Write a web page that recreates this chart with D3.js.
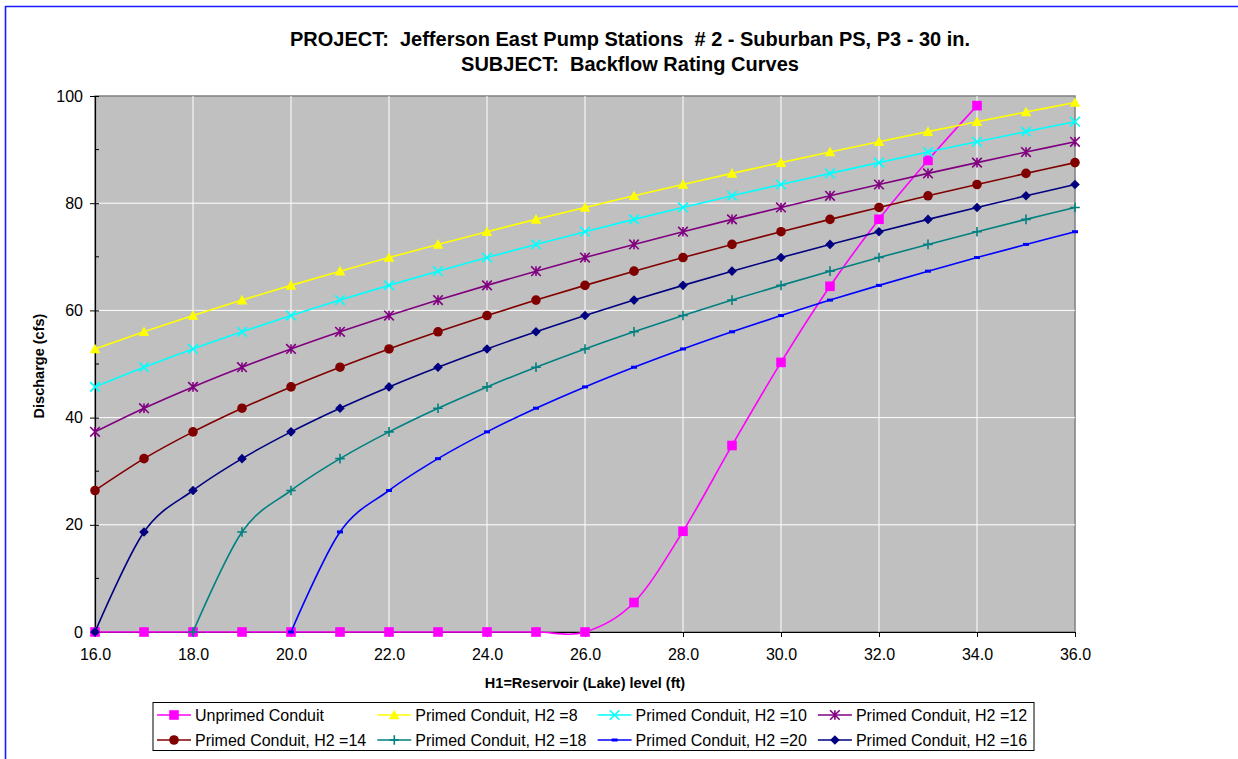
<!DOCTYPE html>
<html><head><meta charset="utf-8">
<script src="https://cdn.jsdelivr.net/npm/d3@7"></script>
<style>
body{margin:0;background:#fff;}
svg text{font-family:Arial,"Liberation Sans",sans-serif;white-space:pre;}
</style></head>
<body><svg id="c" width="1238" height="759"></svg>
<script>
const xLevels = [16,17,18,19,20,21,22,23,24,25,26,27,28,29,30,31,32,33,34,35,36];
const xTicks = [16,18,20,22,24,26,28,30,32,34,36];
const yTicks = [0,20,40,60,80,100];
const yMinorTicks = [10,30,50,70,90];

const unprimed = [0,0,0,0,0,0,0,0,0,0,0,5.5,18.8,34.8,50.3,64.5,77.0,88.0,98.2];
const h2_8  = [52.81,56.01,59.04,61.92,64.67,67.32,69.86,72.31,74.68,76.98,79.21,81.38,83.49,85.56,87.57,89.54,91.46,93.35,95.20,97.01,98.79];
const h2_10 = [45.73,49.40,52.81,56.01,59.04,61.92,64.67,67.32,69.86,72.31,74.68,76.98,79.21,81.38,83.49,85.56,87.57,89.54,91.46,93.35,95.20];
const h2_12 = [37.34,41.75,45.73,49.40,52.81,56.01,59.04,61.92,64.67,67.32,69.86,72.31,74.68,76.98,79.21,81.38,83.49,85.56,87.57,89.54,91.46];
const h2_14 = [26.40,32.34,37.34,41.75,45.73,49.40,52.81,56.01,59.04,61.92,64.67,67.32,69.86,72.31,74.68,76.98,79.21,81.38,83.49,85.56,87.57];
const h2_18 = [null,null,0,18.67,26.40,32.34,37.34,41.75,45.73,49.40,52.81,56.01,59.04,61.92,64.67,67.32,69.86,72.31,74.68,76.98,79.21];
const h2_20 = [null,null,null,null,0,18.67,26.40,32.34,37.34,41.75,45.73,49.40,52.81,56.01,59.04,61.92,64.67,67.32,69.86,72.31,74.68];
const h2_16 = [0,18.67,26.40,32.34,37.34,41.75,45.73,49.40,52.81,56.01,59.04,61.92,64.67,67.32,69.86,72.31,74.68,76.98,79.21,81.38,83.49];

const seriesNames = ["Unprimed Conduit","Primed Conduit, H2 =8","Primed Conduit, H2 =10","Primed Conduit, H2 =12",
  "Primed Conduit, H2 =14","Primed Conduit, H2 =18","Primed Conduit, H2 =20","Primed Conduit, H2 =16"];
const seriesData = [unprimed,h2_8,h2_10,h2_12,h2_14,h2_18,h2_20,h2_16];
const seriesColors = ["#FF00FF","#FFFF00","#00FFFF","#800080","#800000","#008080","#0000FF","#000080"];
const seriesMarkers = ["square","triangle","x","star","circle","plus","dash","diamond"];

const svg = d3.select("#c");
const L=95, R=1075, T=96, B=632;
const x = d3.scaleLinear().domain([16,36]).range([L,R]);
const y = d3.scaleLinear().domain([0,100]).range([B,T]);

// outer blue frame
svg.append("line").attr("x1",5.5).attr("x2",5.5).attr("y1",6).attr("y2",759).attr("stroke","#1a1aff").attr("stroke-width",1.6);
svg.append("line").attr("x1",5).attr("x2",1238).attr("y1",6.5).attr("y2",6.5).attr("stroke","#1a1aff").attr("stroke-width",1.6);

// plot area
svg.append("rect").attr("x",L).attr("y",T).attr("width",R-L).attr("height",B-T).attr("fill","#C0C0C0").attr("stroke","#808080").attr("stroke-width",1.5);

// gridlines
svg.append("g").selectAll("line").data(yTicks.filter(d=>d>0&&d<100)).join("line")
  .attr("x1",L).attr("x2",R).attr("y1",d=>y(d)).attr("y2",d=>y(d)).attr("stroke","#fff").attr("stroke-width",1);
svg.append("g").selectAll("line").data(xTicks.filter(d=>d>16&&d<36)).join("line")
  .attr("y1",T).attr("y2",B).attr("x1",d=>x(d)).attr("x2",d=>x(d)).attr("stroke","#fff").attr("stroke-width",1);

// axes
const yAxis = d3.axisLeft(y).tickValues(yTicks).tickFormat(d3.format("d")).tickSizeInner(5).tickSizeOuter(0);
const gy = svg.append("g").attr("transform",`translate(${L},0)`).call(yAxis);
gy.select(".domain").attr("stroke","#000").attr("stroke-width",1.2);
gy.selectAll(".tick line").attr("x2",-5).attr("x1",4).attr("stroke","#000");
gy.selectAll(".tick text").attr("x",-12).attr("font-size",16).attr("font-family","Arial, 'Liberation Sans'").attr("fill","#000");
svg.append("g").selectAll("line").data(yMinorTicks).join("line")
  .attr("x1",L).attr("x2",L+4).attr("y1",d=>y(d)).attr("y2",d=>y(d)).attr("stroke","#000");

const xAxis = d3.axisBottom(x).tickValues(xTicks).tickFormat(d3.format(".1f")).tickSizeInner(5).tickSizeOuter(0);
const gx = svg.append("g").attr("transform",`translate(0,${B})`).call(xAxis);
gx.select(".domain").attr("stroke","#000").attr("stroke-width",1.2);
gx.selectAll(".tick line").attr("stroke","#000");
gx.selectAll(".tick text").attr("y",17).attr("font-size",16).attr("font-family","Arial, 'Liberation Sans'").attr("fill","#000");

// titles
svg.append("text").attr("x",630).attr("y",46).attr("text-anchor","middle").attr("font-size",20).attr("font-weight","bold")
  .text("PROJECT:  Jefferson East Pump Stations  # 2 - Suburban PS, P3 - 30 in.");
svg.append("text").attr("x",630).attr("y",71).attr("text-anchor","middle").attr("font-size",20).attr("font-weight","bold")
  .text("SUBJECT:  Backflow Rating Curves");
svg.append("text").attr("x",585).attr("y",688).attr("text-anchor","middle").attr("font-size",14.5).attr("font-weight","bold")
  .text("H1=Reservoir (Lake) level (ft)");
svg.append("text").attr("transform","translate(44,366) rotate(-90)").attr("text-anchor","middle").attr("font-size",14.5).attr("font-weight","bold")
  .text("Discharge (cfs)");

// marker drawer
function drawMarker(g, type, color, cx, cy){
  const s = 4.8;
  if(type==="square") g.append("rect").attr("x",cx-s).attr("y",cy-s).attr("width",2*s).attr("height",2*s).attr("fill",color);
  else if(type==="triangle") g.append("path").attr("d",`M${cx},${cy-s-0.5}L${cx+s+0.5},${cy+s-0.5}L${cx-s-0.5},${cy+s-0.5}Z`).attr("fill",color);
  else if(type==="x") g.append("path").attr("d",`M${cx-s},${cy-s}L${cx+s},${cy+s}M${cx-s},${cy+s}L${cx+s},${cy-s}`).attr("stroke",color).attr("stroke-width",1.6);
  else if(type==="star") g.append("path").attr("d",`M${cx-s},${cy-s}L${cx+s},${cy+s}M${cx-s},${cy+s}L${cx+s},${cy-s}M${cx},${cy-s}L${cx},${cy+s}`).attr("stroke",color).attr("stroke-width",1.6);
  else if(type==="circle") g.append("circle").attr("cx",cx).attr("cy",cy).attr("r",s).attr("fill",color);
  else if(type==="plus") g.append("path").attr("d",`M${cx-s},${cy}L${cx+s},${cy}M${cx},${cy-s}L${cx},${cy+s}`).attr("stroke",color).attr("stroke-width",1.6);
  else if(type==="dash") g.append("rect").attr("x",cx-3).attr("y",cy-1.5).attr("width",6).attr("height",3).attr("fill",color);
  else if(type==="diamond") g.append("path").attr("d",`M${cx},${cy-s}L${cx+s},${cy}L${cx},${cy+s}L${cx-s},${cy}Z`).attr("fill",color);
}

const line = d3.line().defined(d=>d[1]!=null).x(d=>x(d[0])).y(d=>y(d[1])).curve(d3.curveCardinal.tension(0));
const plot = svg.append("g");
seriesData.forEach((vals,i)=>{
  const pts = vals.map((v,j)=>[xLevels[j],v]).filter(d=>d[1]!=null);
  const g = plot.append("g");
  g.append("path").attr("d",line(pts)).attr("fill","none").attr("stroke",seriesColors[i]).attr("stroke-width",1.6);
  pts.forEach(p=>drawMarker(g,seriesMarkers[i],seriesColors[i],x(p[0]),y(p[1])));
});

// legend
const lg = svg.append("g");
lg.append("rect").attr("x",153).attr("y",702.5).attr("width",881).attr("height",48).attr("fill","#fff").attr("stroke","#000").attr("stroke-width",1);
seriesNames.forEach((name,i)=>{
  const col=i%4, row=Math.floor(i/4);
  const lx=157+col*220.3, ly=715+row*25;
  lg.append("line").attr("x1",lx).attr("x2",lx+34).attr("y1",ly).attr("y2",ly).attr("stroke",seriesColors[i]).attr("stroke-width",1.6);
  drawMarker(lg,seriesMarkers[i],seriesColors[i],lx+17,ly);
  lg.append("text").attr("x",lx+38).attr("y",ly+6).attr("font-size",16).text(name);
});
</script></body></html>
